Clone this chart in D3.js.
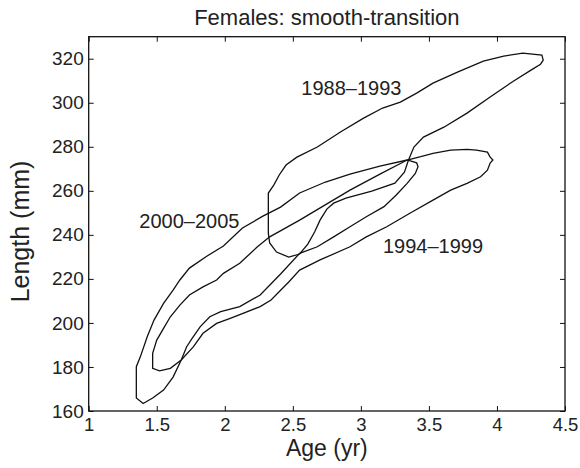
<!DOCTYPE html>
<html>
<head>
<meta charset="utf-8">
<script src="https://cdn.jsdelivr.net/npm/d3@7"></script>
<style>
  body { margin: 0; background: #fff; }
  text { font-family: "Liberation Sans", Arial, Helvetica, sans-serif; fill: #222; }
</style>
</head>
<body>
<div id="chart"></div>
<script>
// contour outlines, [age (yr), length (mm)]
const period1988 = [
  [2.32,259.0],[2.32,240.8],[2.33,236.3],[2.38,232.2],[2.47,229.9],[2.55,231.3],[2.61,235.8],
  [2.66,241.3],[2.70,246.7],[2.75,251.7],[2.80,254.4],[2.89,256.7],[3.08,259.9],[3.25,263.5],
  [3.32,268.5],[3.35,274.0],[3.39,279.9],[3.46,284.4],[3.61,288.9],[3.78,295.3],[3.95,302.6],
  [4.12,309.8],[4.25,314.8],[4.32,317.5],[4.34,319.4],[4.33,321.6],[4.19,322.5],[4.05,321.2],
  [3.90,318.9],[3.71,313.9],[3.53,308.9],[3.41,304.4],[3.29,300.3],[3.16,297.6],[3.02,293.0],
  [2.85,286.7],[2.68,279.9],[2.53,275.3],[2.45,271.7],[2.40,267.2],[2.36,262.6]
];
const period1994 = [
  [1.47,179.4],[1.47,186.2],[1.50,192.2],[1.55,197.5],[1.60,202.8],[1.67,208.1],[1.74,212.7],
  [1.84,216.4],[1.94,219.5],[1.99,222.5],[2.11,227.1],[2.24,234.6],[2.33,239.1],[2.55,246.7],
  [2.92,260.3],[3.14,267.6],[3.34,274.0],[3.44,275.5],[3.53,277.0],[3.66,278.5],[3.78,278.8],
  [3.85,278.5],[3.93,277.6],[3.95,275.3],[3.97,274.0],[3.95,272.6],[3.93,269.4],[3.88,266.4],
  [3.78,263.4],[3.66,260.3],[3.53,255.8],[3.36,249.8],[3.19,243.7],[3.04,239.1],[2.92,234.6],
  [2.70,228.6],[2.55,224.0],[2.47,218.6],[2.34,210.4],[2.26,207.4],[2.04,202.1],[1.94,199.8],
  [1.84,195.3],[1.77,189.2],[1.68,183.2],[1.60,179.4],[1.52,178.2]
];
const period2000 = [
  [1.35,165.9],[1.35,180.1],[1.38,184.7],[1.43,193.7],[1.48,201.3],[1.55,208.9],[1.62,214.9],
  [1.67,219.5],[1.74,224.9],[1.87,230.4],[1.99,234.9],[2.13,243.1],[2.28,248.5],[2.41,252.6],
  [2.55,259.0],[2.74,264.0],[2.92,267.6],[3.14,271.2],[3.34,274.0],[3.41,272.7],[3.42,270.9],
  [3.40,267.9],[3.34,263.4],[3.26,258.1],[3.17,252.8],[3.04,248.2],[2.92,243.7],[2.80,239.1],
  [2.68,234.6],[2.55,231.6],[2.41,222.2],[2.26,212.7],[2.11,207.4],[1.97,205.1],[1.89,202.8],
  [1.82,198.3],[1.76,193.0],[1.72,189.2],[1.68,183.2],[1.62,175.4],[1.55,169.5],[1.47,165.9],
  [1.40,163.4]
];

const periodNames = ["1988\u20131993", "1994\u20131999", "2000\u20132005"];
// label anchor (age, length at text baseline)
const labelAge = [2.93, 3.53, 1.74];
const labelLength = [303.5, 231.6, 242.9];

const xTicks = [1, 1.5, 2, 2.5, 3, 3.5, 4, 4.5];
const yTicks = [160, 180, 200, 220, 240, 260, 280, 300, 320];

const width = 580, height = 468;
const margin = { top: 36.7, right: 15, bottom: 57, left: 88.7 };
const graphWidth = width - margin.left - margin.right;
const graphHeight = height - margin.top - margin.bottom;

const svg = d3.select('#chart').append('svg')
  .attr('width', width)
  .attr('height', height);

const graph = svg.append('g')
  .attr('transform', `translate(${margin.left}, ${margin.top})`);

const x = d3.scaleLinear().domain([1, 4.5]).range([0, graphWidth]);
const y = d3.scaleLinear().domain([160, 330]).range([graphHeight, 0]);

// axes, ticks pointing inwards
const xAxis = d3.axisBottom(x).tickValues(xTicks).tickSizeInner(-5).tickSizeOuter(0).tickPadding(7)
  .tickFormat(d3.format('~g'));
const yAxis = d3.axisLeft(y).tickValues(yTicks).tickSizeInner(-5).tickSizeOuter(0).tickPadding(5);

const xAxisGroup = graph.append('g').attr('transform', `translate(0, ${graphHeight})`).call(xAxis);
const yAxisGroup = graph.append('g').call(yAxis);
graph.append('g').call(d3.axisTop(x).tickValues(xTicks).tickSizeInner(-5).tickSizeOuter(0).tickFormat(''));
graph.append('g').attr('transform', `translate(${graphWidth}, 0)`)
  .call(d3.axisRight(y).tickValues(yTicks).tickSizeInner(-5).tickSizeOuter(0).tickFormat(''));

graph.selectAll('.domain').remove();
graph.selectAll('.tick line').attr('stroke', '#111').attr('stroke-width', 1);
graph.selectAll('.tick text').style('font-size', '19px').attr('fill', '#222')
  .style('font-family', '"Liberation Sans", Arial, sans-serif');
xAxisGroup.selectAll('.tick text').style('font-size', '18.5px');

graph.append('rect')
  .attr('width', graphWidth).attr('height', graphHeight)
  .attr('fill', 'none').attr('stroke', '#111').attr('stroke-width', 1.3);

// contours
const line = d3.line()
  .x(d => x(d[0]))
  .y(d => y(d[1]))
  .curve(d3.curveLinearClosed);

graph.selectAll('path.contour')
  .data([period1988, period1994, period2000])
  .enter().append('path')
  .attr('class', 'contour')
  .attr('d', line)
  .attr('fill', 'none')
  .attr('stroke', '#111')
  .attr('stroke-width', 1.3);

graph.selectAll('text.period')
  .data(periodNames)
  .enter().append('text')
  .attr('class', 'period')
  .attr('x', (d, i) => x(labelAge[i]))
  .attr('y', (d, i) => y(labelLength[i]))
  .attr('text-anchor', 'middle')
  .style('font-size', '20px')
  .text(d => d);

// titles
svg.append('text')
  .attr('x', margin.left + graphWidth / 2)
  .attr('y', 25)
  .attr('text-anchor', 'middle')
  .style('font-size', '22px')
  .text('Females: smooth-transition');

svg.append('text')
  .attr('x', margin.left + graphWidth / 2)
  .attr('y', 456)
  .attr('text-anchor', 'middle')
  .style('font-size', '23px')
  .text('Age (yr)');

svg.append('text')
  .attr('transform', `translate(29, 231.5) rotate(-90)`)
  .attr('text-anchor', 'middle')
  .style('font-size', '25px')
  .text('Length (mm)');
</script>
</body>
</html>
